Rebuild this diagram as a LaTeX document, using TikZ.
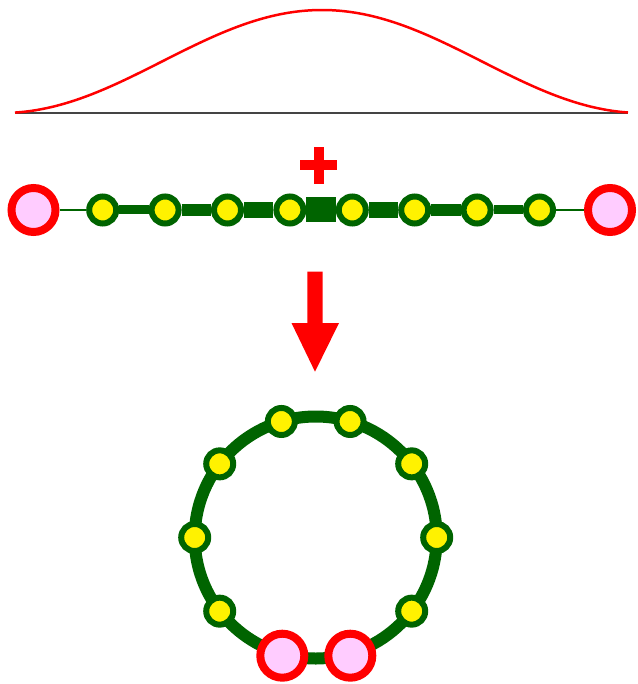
\documentclass[tikz,border=0pt]{standalone}
\usepackage{tikz}
\usetikzlibrary{backgrounds, calc}
\definecolor{chaingreen}{RGB}{0, 100, 0}
\definecolor{endpink}{RGB}{255, 204, 255}
\definecolor{axisgray}{RGB}{68, 68, 68}

\tikzset{
  bead/.style={circle, draw=chaingreen, fill=yellow, line width=6pt,
    minimum size=27pt, inner sep=0pt},
  endbead/.style={circle, draw=red, fill=endpink, line width=8pt,
    minimum size=44pt, inner sep=0pt},
  link/.style={draw=chaingreen, line width=#1}
}

\begin{document}
\begin{tikzpicture}[x=1pt, y=-1pt]
\useasboundingbox (0,0) rectangle (637,684);

% ============================================================
%  TOP  --  bell-shaped profile over a base line
% ============================================================

\draw[axisgray, line width=1.5pt] (15,113) -- (628,113);
\draw[red, line width=2.5pt, domain=15:628, samples=120, smooth]
  plot (\x, {113 - 51.5*(1 + cos((\x-322)/320*180))});

% plus sign above the chain
\fill[red] (313.5,147) rectangle (323.5,184);
\fill[red] (300,160.5) rectangle (337,170.5);

% ============================================================
%  MIDDLE  --  open chain, links thicker towards the centre
% ============================================================

% ends at x = 33 and 610, beads every ~62.4 from x = 102.7
\node[endbead] (ca) at (33.5,210) {};
\foreach \i in {1,...,8}
  \node[bead] (c\i) at ({102.7 + (\i-1)*62.4},210) {};
\node[endbead] (cb) at (610,210) {};

\begin{scope}[on background layer]
  \draw[link=1.5pt] (ca) -- (c1);
  \draw[link=9pt]   (c1) -- (c2);
  \draw[link=12pt]  (c2) -- (c3);
  \draw[link=16pt]  (c3) -- (c4);
  \draw[link=25pt]  (c4) -- (c5);
  \draw[link=16pt]  (c5) -- (c6);
  \draw[link=12pt]  (c6) -- (c7);
  \draw[link=9pt]   (c7) -- (c8);
  \draw[link=1.5pt] (c8) -- (cb);
\end{scope}

% big arrow down
\fill[red] (307.3,271.7) -- (322.7,271.7) -- (322.7,323) -- (339,323)
  -- (315,371.7) -- (291.5,323) -- (307.3,323) -- cycle;

% ============================================================
%  BOTTOM  --  closed ring, centre (315.7, 537.5), r = 121
% ============================================================

\coordinate (rc) at (315.7,537.5);
\draw[chaingreen, line width=12pt] (rc) circle[radius=121pt];

% angles measured downwards (y points down)
\foreach \a [count=\i] in {0,37.5,-37.5,-73.5,-106.5,-142.5,180,142.5}
  \node[bead] (r\i) at ($(rc)+(\a:121)$) {};
\node[endbead] (re1) at (282.3,655.7) {};
\node[endbead] (re2) at (350.3,655.7) {};

\end{tikzpicture}
\end{document}
